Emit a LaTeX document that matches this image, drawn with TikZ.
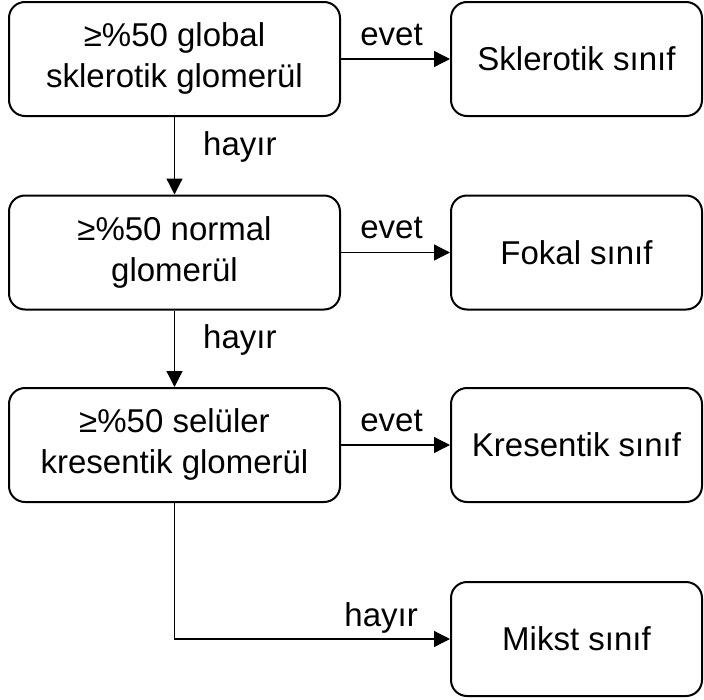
\documentclass[tikz,border=0pt]{standalone}
\usepackage{fontspec}
\setmainfont{Liberation Sans}
\usetikzlibrary{arrows.meta}
\begin{document}
\begin{tikzpicture}[x=1pt,y=-1pt,
  box/.style={draw,line width=2pt,rounded corners=16pt,minimum height=114pt,align=center,font=\fontsize{33}{41}\selectfont,inner sep=0pt},
  lbox/.style={box,minimum width=331pt},
  rbox/.style={box,minimum width=251pt},
  arr/.style={line width=1.3pt,-{Triangle[length=16pt,width=16pt]}},
  lab/.style={font=\fontsize{33}{40}\selectfont,inner sep=0pt}]
\useasboundingbox (0,0) rectangle (704,699);
\node[lbox] (l1) at (174.5,59) {\raisebox{-3pt}{\begin{tabular}{@{}c@{}}≥\%50 global\\sklerotik glomerül\end{tabular}}};
\node[lbox] (l2) at (174.5,252.5) {\raisebox{-3pt}{\begin{tabular}{@{}c@{}}≥\%50 normal\\glomerül\end{tabular}}};
\node[lbox] (l3) at (174.5,445) {\raisebox{-3pt}{\begin{tabular}{@{}c@{}}≥\%50 selüler\\kresentik glomerül\end{tabular}}};
\node[rbox] (r1) at (576.5,59) {Sklerotik sınıf};
\node[rbox] (r2) at (576.5,252.5) {Fokal sınıf};
\node[rbox] (r3) at (576.5,445) {Kresentik sınıf};
\node[rbox] (r4) at (576.5,639) {Mikst sınıf};
\coordinate (c) at (l3.south |- r4.west);
\draw[arr] (l1.east) -- node[lab,above=13pt,xshift=-4pt]{evet} (r1.west);
\draw[arr] (l2.east) -- node[lab,above=13pt,xshift=-4pt]{evet} (r2.west);
\draw[arr] (l3.east) -- node[lab,above=13pt,xshift=-4pt]{evet} (r3.west);
\draw[arr] (l1.south) -- node[lab,right=28pt,yshift=9pt]{hayır} (l2.north);
\draw[arr] (l2.south) -- node[lab,right=28pt,yshift=9pt]{hayır} (l3.north);
\draw[arr] (l3.south) -- (c) -- node[lab,above=5pt,pos=0.75]{hayır} (r4.west);
\end{tikzpicture}
\end{document}
